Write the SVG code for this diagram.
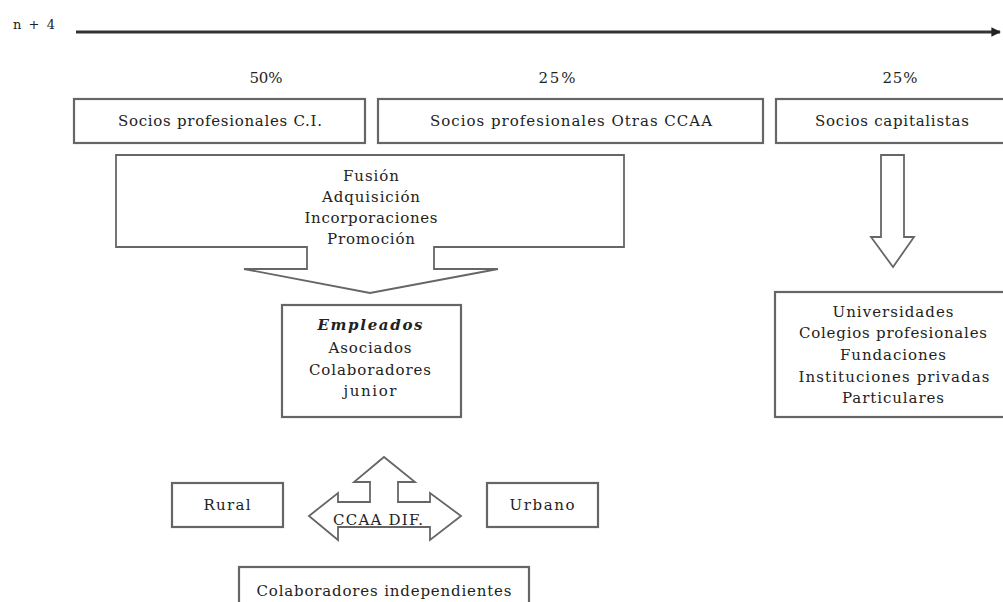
<svg xmlns="http://www.w3.org/2000/svg" width="1003" height="602" viewBox="0 0 1003 602">
  <defs>
    <marker id="tip" viewBox="0 0 10 10" refX="9" refY="5" markerWidth="3.2" markerHeight="3.6" orient="auto" markerUnits="strokeWidth">
      <path d="M0,0 L10,5 L0,10 z" fill="#222"/>
    </marker>
    <style>
      text { font-family: "DejaVu Serif", "Liberation Serif", serif; font-size: 15px; fill: #222; text-anchor: middle; }
      .box { fill: #fff; stroke: #666; stroke-width: 2.2; }
      .shape { fill: #fff; stroke: #666; stroke-width: 1.8; stroke-linejoin: miter; }
      .small { font-size: 13px; }
      .em { font-weight: bold; font-style: italic; }
    </style>
  </defs>

  <rect width="1003" height="602" fill="#fff"/>

  <!-- timeline -->
  <g id="connectors">
    <line x1="76" y1="32" x2="1000" y2="32" stroke="#333" stroke-width="3" marker-end="url(#tip)"/>
    <!-- block arrow from capital partners down to institutions -->
    <polygon class="shape" points="881,155 904,155 904,237 914,237 893,267 871,237 881,237"/>
  </g>

  <g id="timeline-label">
    <text class="small" x="34" y="29" textLength="42">n + 4</text>
  </g>

  <g id="pct-50"><text x="266" y="83" textLength="33">50%</text></g>
  <g id="pct-25a"><text x="557" y="83" textLength="37">25%</text></g>
  <g id="pct-25b"><text x="900" y="83" textLength="35">25%</text></g>

  <g id="socios-ci">
    <rect class="box" x="74" y="99" width="291" height="44"/>
    <text x="220" y="126" textLength="204">Socios profesionales C.I.</text>
  </g>

  <g id="socios-otras">
    <rect class="box" x="378" y="99" width="385" height="44"/>
    <text x="571" y="126" textLength="282">Socios profesionales Otras CCAA</text>
  </g>

  <g id="socios-capital">
    <rect class="box" x="776" y="99" width="240" height="44"/>
    <text x="892" y="126" textLength="154">Socios capitalistas</text>
  </g>

  <!-- callout arrow: growth channels -->
  <g id="canales">
    <polygon class="shape" points="116,155 624,155 624,247 434,247 434,269 498,269 370,293 244,269 307,269 307,247 116,247"/>
    <text x="371" y="181" textLength="56">Fusión</text>
    <text x="371" y="202" textLength="98">Adquisición</text>
    <text x="371" y="223" textLength="133">Incorporaciones</text>
    <text x="371" y="244" textLength="88">Promoción</text>
  </g>

  <g id="empleados">
    <rect class="box" x="282" y="305" width="179" height="112"/>
    <text class="em" x="370" y="330" textLength="105">Empleados</text>
    <text x="370" y="353" textLength="83">Asociados</text>
    <text x="370" y="375" textLength="122">Colaboradores</text>
    <text x="370" y="396" textLength="53">junior</text>
  </g>

  <g id="instituciones">
    <rect class="box" x="775" y="292" width="240" height="125"/>
    <text x="893" y="317" textLength="121">Universidades</text>
    <text x="893" y="338" textLength="188">Colegios profesionales</text>
    <text x="893" y="360" textLength="106">Fundaciones</text>
    <text x="894" y="382" textLength="191">Instituciones privadas</text>
    <text x="893" y="403" textLength="102">Particulares</text>
  </g>

  <g id="rural">
    <rect class="box" x="172" y="483" width="111" height="44"/>
    <text x="227" y="510" textLength="47">Rural</text>
  </g>

  <g id="urbano">
    <rect class="box" x="487" y="483" width="111" height="44"/>
    <text x="542" y="510" textLength="65">Urbano</text>
  </g>

  <!-- three-way block arrow -->
  <g id="ccaa-dif">
    <polygon class="shape" points="309,516 338,493 338,502 370,502 370,482 354,482 384,457 415,482 398,482 398,502 430,502 430,493 461,516 430,540 430,527 338,527 338,540"/>
    <text x="378" y="525" textLength="90">CCAA DIF.</text>
  </g>

  <g id="colaboradores-indep">
    <rect class="box" x="239" y="567" width="290" height="50"/>
    <text x="384" y="596" textLength="255">Colaboradores independientes</text>
  </g>
</svg>
